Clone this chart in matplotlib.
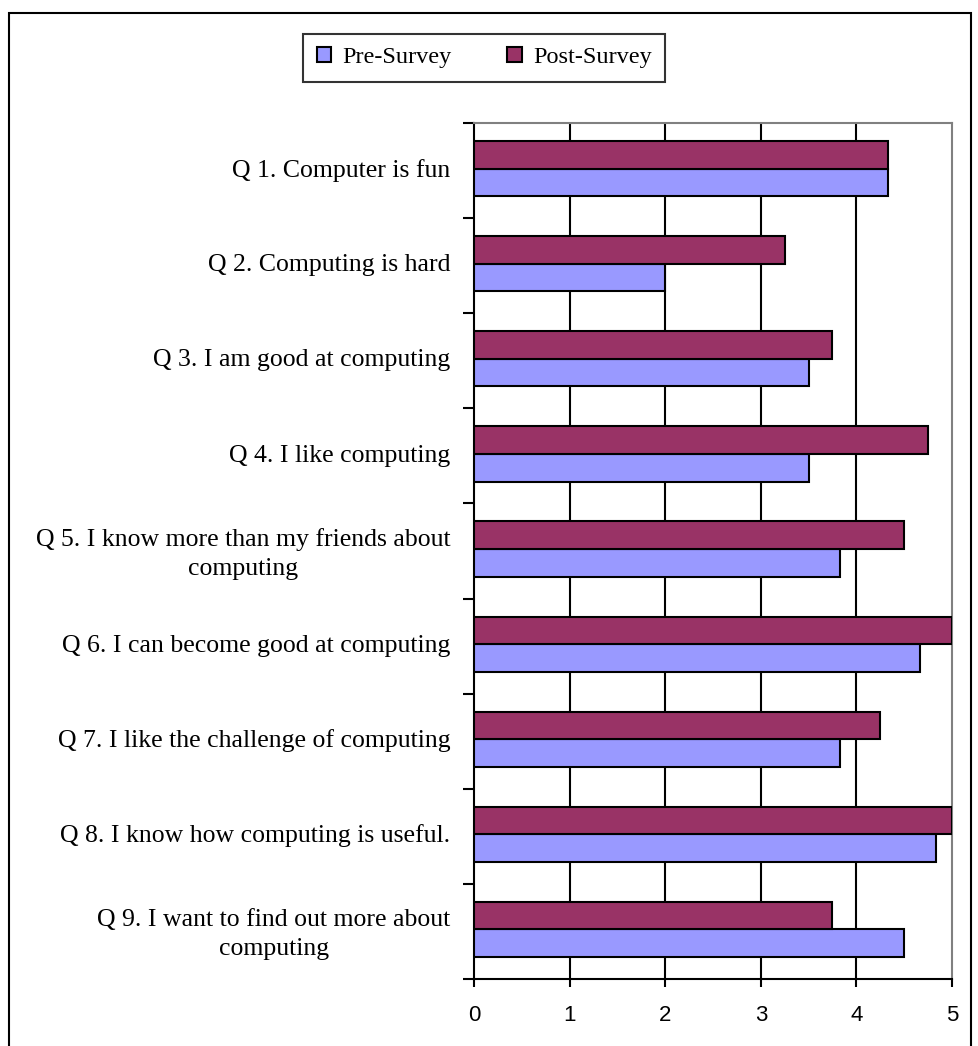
import numpy as np
import matplotlib.pyplot as plt
from matplotlib.patches import Rectangle

# 问卷题目
questions = [
    "Q 1. Computer is fun",
    "Q 2. Computing is hard",
    "Q 3. I am good at computing",
    "Q 4. I like computing",
    "Q 5. I know more than my friends about\ncomputing",
    "Q 6. I can become good at computing",
    "Q 7. I like the challenge of computing",
    "Q 8. I know how computing is useful.",
    "Q 9. I want to find out more about\ncomputing",
]
pre_survey = [4.33, 2.0, 3.5, 3.5, 3.83, 4.67, 3.83, 4.83, 4.5]
post_survey = [4.33, 3.25, 3.75, 4.75, 4.5, 5.0, 4.25, 5.0, 3.75]
x_ticks = [0, 1, 2, 3, 4, 5]

pre_color = '#9999FF'
post_color = '#993366'

fig = plt.figure(figsize=(9.79, 10.46), dpi=100)
ax = fig.add_axes([0.4842, 0.0641, 0.4882, 0.8183])

y = np.arange(len(questions))
h = 0.29
ax.barh(y + h / 2 - 0.02, pre_survey, height=h, color=pre_color, edgecolor='black',
        linewidth=1.5, label='Pre-Survey', zorder=3)
ax.barh(y - h / 2 - 0.02, post_survey, height=h, color=post_color, edgecolor='black',
        linewidth=1.5, label='Post-Survey', zorder=3)

ax.set_xlim(0, 5)
ax.set_ylim(len(questions) - 0.5, -0.5)

# 网格线
for gx in x_ticks[1:-1]:
    ax.axvline(gx, color='black', linewidth=1.5, zorder=1)

ax.set_xticks(x_ticks)
ax.set_xticklabels([str(t) for t in x_ticks], fontfamily='Liberation Sans', fontsize=16)
ax.tick_params(axis='x', direction='out', length=6, width=1.5, pad=13)

# y 轴：刻度在类别之间，标签在类别中心
ax.set_yticks(np.arange(len(questions) + 1) - 0.5)
ax.set_yticklabels([])
ax.set_yticks(y - 0.03, minor=True)
ax.set_yticklabels(questions, minor=True, fontfamily='Liberation Serif', fontsize=18.5,
                   multialignment='center', linespacing=1.4)
ax.tick_params(axis='y', which='major', direction='out', length=8, width=1.5)
ax.tick_params(axis='y', which='minor', length=0, pad=17)

ax.spines['left'].set_linewidth(1.5)
ax.spines['bottom'].set_linewidth(1.5)
ax.spines['right'].set_color('#808080')
ax.spines['top'].set_color('#808080')
ax.spines['right'].set_linewidth(1.5)
ax.spines['top'].set_linewidth(1.5)

leg = fig.legend(loc='center', bbox_to_anchor=(0.4945, 0.945), ncol=2,
                 prop={'family': 'Liberation Serif', 'size': 17.5},
                 frameon=True, fancybox=False, edgecolor='black',
                 handlelength=0.6, handleheight=0.6, handletextpad=0.45,
                 columnspacing=2.3, borderpad=0.55, borderaxespad=0)
leg.get_frame().set_linewidth(1.5)

# 外框
fig.patches.append(Rectangle((0.009, -0.01), 0.983, 0.998, transform=fig.transFigure,
                             fill=False, edgecolor='black', linewidth=1.5))

fig.savefig('out.png', dpi=100)
